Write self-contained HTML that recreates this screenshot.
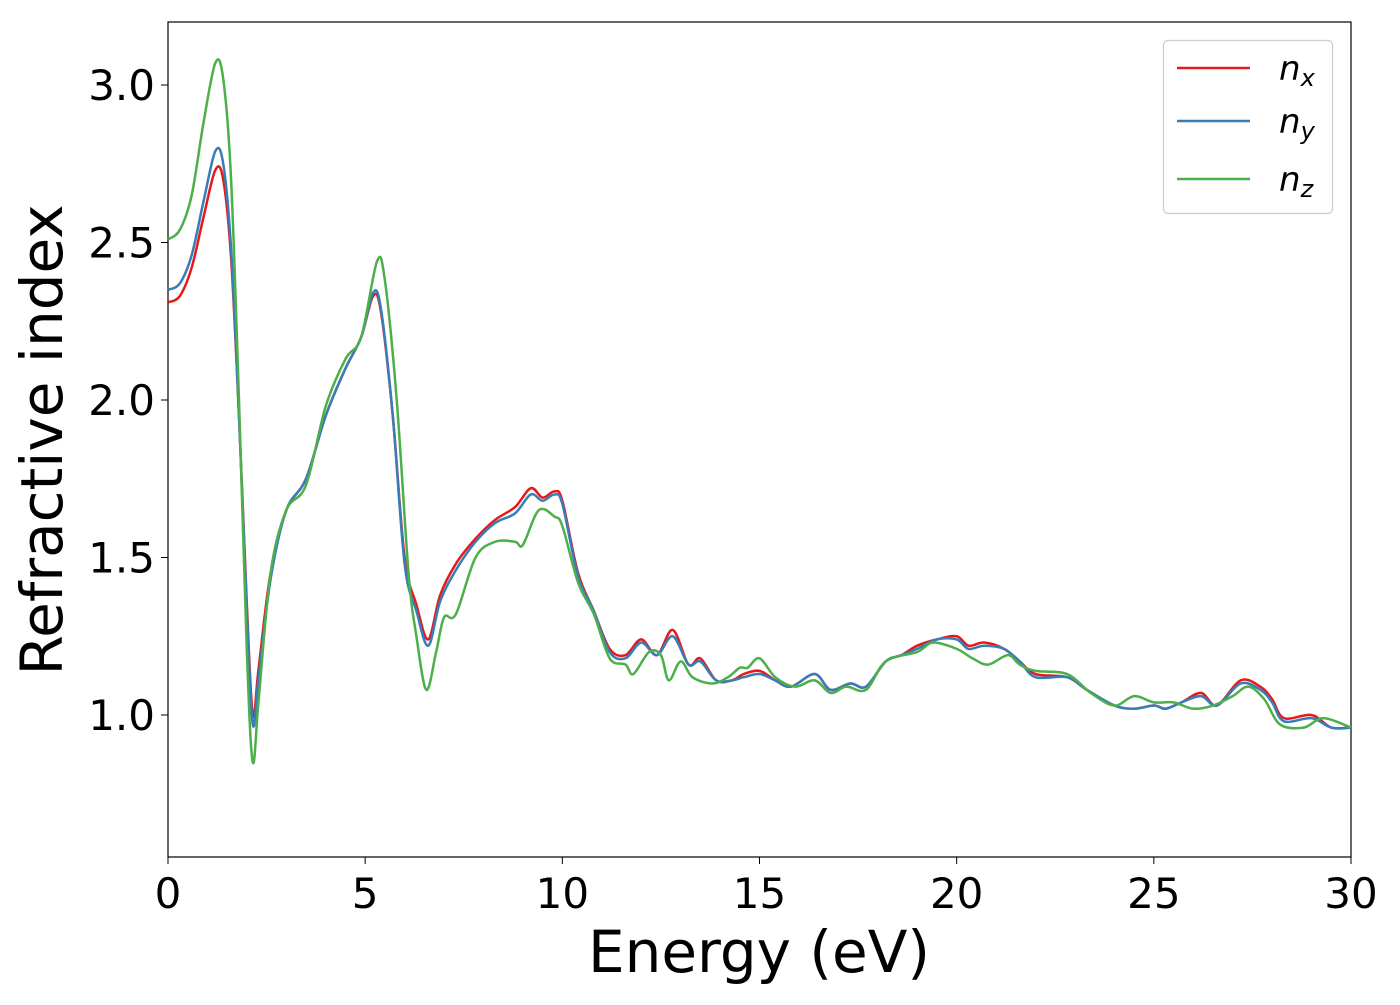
<!DOCTYPE html>
<html><head><meta charset="utf-8"><style>
body{margin:0;background:#fff}
text{font-family:"DejaVu Sans","Liberation Sans",sans-serif}
</style></head><body>
<svg id="chart" width="1400" height="1000">
<rect x="168" y="22" width="1183" height="835" fill="none" stroke="#000" stroke-width="1.2"/>
<g id="ticks"></g>
<g id="series"></g>
<text x="759" y="972" font-size="58" text-anchor="middle">Energy (eV)</text>
<text transform="translate(62,440) rotate(-90)" font-size="58" text-anchor="middle">Refractive index</text>
<g>
<rect x="1163.5" y="40.5" width="169" height="173" rx="5" fill="#fff" stroke="#ccc" stroke-width="1.2"/>
<line x1="1177" y1="68" x2="1250" y2="68" stroke="#e41a1c" stroke-width="2.5"/>
<text x="1279" y="80" font-size="34" font-style="italic">n<tspan font-size="24" dy="6">x</tspan></text>
<line x1="1177" y1="121" x2="1250" y2="121" stroke="#377eb8" stroke-width="2.5"/>
<text x="1279" y="133" font-size="34" font-style="italic">n<tspan font-size="24" dy="6">y</tspan></text>
<line x1="1177" y1="179" x2="1250" y2="179" stroke="#4daf4a" stroke-width="2.5"/>
<text x="1279" y="191" font-size="34" font-style="italic">n<tspan font-size="24" dy="6">z</tspan></text>
</g>
</svg>
<script>
const xTicks=[0,5,10,15,20,25,30];
const yTicks=[1.0,1.5,2.0,2.5,3.0];
const exE=[0,0.3,0.6,0.9,1.2,1.4,1.6,1.8,2.0,2.15,2.3,2.6,3.0,3.5,4.0,4.5,4.9,5.2,5.4,5.7,6.0,6.3,6.6,6.9,7.3,7.8,8.3,8.8,9.2,9.5,9.8,10.0,10.4,10.8,11.2,11.6,12.0,12.4,12.8,13.2,13.5,13.9,14.3,14.6,15.0,15.4,15.8,16.4,16.8,17.3,17.7,18.2,18.6,19.0,19.5,20.0,20.3,20.7,21.2,21.6,22.0,22.8,23.3,24.0,24.5,25.0,25.3,25.7,26.2,26.6,27.2,27.7,28.0,28.3,29.0,29.5,30];
const nx=[2.31,2.33,2.42,2.58,2.73,2.70,2.45,1.95,1.35,1.0,1.15,1.45,1.65,1.75,1.95,2.10,2.20,2.33,2.28,1.95,1.50,1.35,1.24,1.38,1.48,1.56,1.62,1.66,1.72,1.69,1.71,1.68,1.45,1.33,1.21,1.19,1.24,1.19,1.27,1.16,1.18,1.11,1.11,1.13,1.14,1.11,1.09,1.13,1.08,1.10,1.09,1.17,1.19,1.22,1.24,1.25,1.22,1.23,1.21,1.17,1.13,1.12,1.08,1.03,1.02,1.03,1.02,1.04,1.07,1.03,1.11,1.09,1.05,0.99,1.0,0.96,0.96];
const ny=[2.35,2.37,2.46,2.63,2.79,2.75,2.48,1.95,1.33,0.97,1.12,1.43,1.65,1.75,1.95,2.10,2.20,2.34,2.29,1.95,1.48,1.33,1.22,1.36,1.46,1.55,1.61,1.64,1.70,1.68,1.70,1.67,1.44,1.33,1.20,1.18,1.23,1.19,1.25,1.16,1.17,1.11,1.11,1.12,1.13,1.11,1.09,1.13,1.08,1.10,1.09,1.17,1.19,1.21,1.24,1.24,1.21,1.22,1.21,1.17,1.12,1.12,1.08,1.03,1.02,1.03,1.02,1.04,1.06,1.03,1.10,1.08,1.04,0.98,0.99,0.96,0.96];
const ezE=[0,0.3,0.6,0.9,1.2,1.4,1.6,1.8,2.0,2.15,2.3,2.6,3.0,3.5,4.0,4.5,4.9,5.3,5.5,5.8,6.1,6.3,6.55,6.8,7.0,7.3,7.8,8.3,8.8,9.0,9.4,9.8,10.0,10.4,10.8,11.2,11.6,11.8,12.2,12.5,12.7,13.0,13.3,13.8,14.2,14.5,14.7,15.0,15.4,15.9,16.4,16.8,17.2,17.7,18.2,19.0,19.4,20.0,20.4,20.8,21.3,21.6,22.0,22.8,23.4,24.0,24.5,25.0,25.5,26.0,26.5,27.0,27.4,27.8,28.2,28.8,29.3,30];
const nz=[2.51,2.54,2.65,2.88,3.07,3.02,2.70,2.00,1.20,0.85,1.05,1.45,1.65,1.73,1.98,2.13,2.20,2.44,2.38,2.00,1.45,1.25,1.08,1.20,1.31,1.32,1.50,1.55,1.55,1.54,1.65,1.63,1.60,1.42,1.32,1.18,1.16,1.13,1.20,1.19,1.11,1.17,1.12,1.10,1.12,1.15,1.15,1.18,1.12,1.09,1.11,1.07,1.09,1.08,1.17,1.20,1.23,1.21,1.18,1.16,1.19,1.16,1.14,1.13,1.07,1.03,1.06,1.04,1.04,1.02,1.03,1.06,1.09,1.05,0.97,0.96,0.99,0.96];
const X=v=>168+v*(1183/30);
const Y=v=>715-(v-1)*315;
const NS="http://www.w3.org/2000/svg";
const tg=document.getElementById('ticks');
xTicks.forEach(t=>{
 const l=document.createElementNS(NS,'line');
 l.setAttribute('x1',X(t));l.setAttribute('x2',X(t));l.setAttribute('y1',857);l.setAttribute('y2',864);l.setAttribute('stroke','#000');
 
 
 tg.appendChild(l);
 const s=document.createElementNS(NS,'text');
 s.setAttribute('x',X(t));s.setAttribute('y',908);s.setAttribute('font-size','42');s.setAttribute('text-anchor','middle');
 s.textContent=t;
 
 
 tg.appendChild(s);
});
yTicks.forEach(t=>{
 const l=document.createElementNS(NS,'line');
 l.setAttribute('x1',161);l.setAttribute('x2',168);l.setAttribute('y1',Y(t));l.setAttribute('y2',Y(t));l.setAttribute('stroke','#000');
 
 
 tg.appendChild(l);
 const s=document.createElementNS(NS,'text');
 s.setAttribute('x',155);s.setAttribute('y',Y(t)+15);s.setAttribute('font-size','42');s.setAttribute('text-anchor','end');
 s.textContent=t.toFixed(1);
 
 
 tg.appendChild(s);
});
function pathFor(xs,ys){
 const p=xs.map((x,i)=>[X(x),Y(ys[i])]);
 let d=`M${p[0][0]},${p[0][1]}`;
 for(let i=0;i<p.length-1;i++){
  const p0=p[Math.max(0,i-1)],p1=p[i],p2=p[i+1],p3=p[Math.min(p.length-1,i+2)];
  const c1=[p1[0]+(p2[0]-p0[0])/6,p1[1]+(p2[1]-p0[1])/6];
  const c2=[p2[0]-(p3[0]-p1[0])/6,p2[1]-(p3[1]-p1[1])/6];
  d+=`C${c1[0]},${c1[1]} ${c2[0]},${c2[1]} ${p2[0]},${p2[1]}`;
 }
 return d;
}
const sg=document.getElementById('series');
[[exE,nx,'#e41a1c','series-nx'],[exE,ny,'#377eb8','series-ny'],[ezE,nz,'#4daf4a','series-nz']].forEach(s=>{
 const p=document.createElementNS(NS,'path');
 p.setAttribute('d',pathFor(s[0],s[1]));p.setAttribute('fill','none');p.setAttribute('stroke',s[2]);p.setAttribute('stroke-width','2.5');
 
 
 sg.appendChild(p);
});
</script>
</body></html>
